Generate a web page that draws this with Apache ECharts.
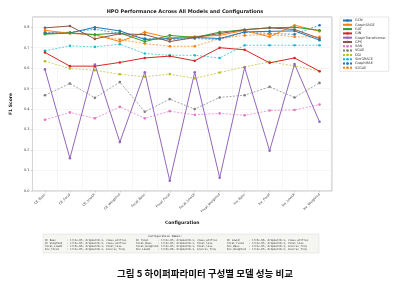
<!DOCTYPE html>
<html>
<head>
<meta charset="utf-8">
<script src="https://cdn.jsdelivr.net/npm/echarts@6/dist/echarts.min.js"></script>
<style>
html,body{margin:0;padding:0;background:#fff;}
#main{width:394px;height:294px;}
</style>
</head>
<body>
<div id="main"></div>
<script>
// 구성(x축) 이름
var configs = ["CE_Base", "CE_Focal", "CE_LowLR", "CE_Weighted", "Focal_Base", "Focal_Focal",
	"Focal_LowLR", "Focal_Weighted", "Inv_Base", "Inv_Focal", "Inv_LowLR", "Inv_Weighted"];
// 모델 이름
var models = ["GCN", "GraphSAGE", "GAT", "GIN", "GraphTransformer", "GPS", "SAN", "VGAE", "DGI", "SimGRACE", "GraphMAE", "S2GAE"];
// 모델별 F1 값
var gcn = [0.770, 0.772, 0.800, 0.782, 0.740, 0.745, 0.750, 0.745, 0.777, 0.780, 0.782, 0.737];
var sage = [0.785, 0.770, 0.764, 0.730, 0.776, 0.748, 0.755, 0.760, 0.785, 0.753, 0.810, 0.780];
var gat = [0.766, 0.772, 0.764, 0.772, 0.730, 0.760, 0.750, 0.776, 0.788, 0.797, 0.800, 0.785];
var gin = [0.677, 0.610, 0.610, 0.628, 0.650, 0.659, 0.636, 0.700, 0.690, 0.626, 0.650, 0.585];
var gtrans = [0.594, 0.160, 0.618, 0.239, 0.580, 0.050, 0.580, 0.065, 0.603, 0.197, 0.620, 0.338];
var gps = [0.797, 0.806, 0.743, 0.768, 0.764, 0.730, 0.750, 0.769, 0.788, 0.797, 0.789, 0.745];
var san = [0.348, 0.384, 0.355, 0.411, 0.355, 0.390, 0.372, 0.379, 0.370, 0.393, 0.396, 0.422];
var vgae = [0.468, 0.525, 0.455, 0.532, 0.387, 0.449, 0.400, 0.457, 0.468, 0.509, 0.457, 0.528];
var dgi = [0.634, 0.598, 0.590, 0.570, 0.558, 0.571, 0.550, 0.579, 0.606, 0.631, 0.611, 0.585];
var simgrace = [0.685, 0.709, 0.704, 0.717, 0.672, 0.663, 0.663, 0.650, 0.712, 0.712, 0.712, 0.712];
var graphmae = [0.775, 0.775, 0.790, 0.770, 0.745, 0.740, 0.745, 0.740, 0.775, 0.770, 0.765, 0.810];
var s2gae = [0.770, 0.775, 0.760, 0.740, 0.720, 0.707, 0.707, 0.745, 0.760, 0.765, 0.753, 0.753];
var allValues = [gcn, sage, gat, gin, gtrans, gps, san, vgae, dgi, simgrace, graphmae, s2gae];
// y축 눈금
var yTicks = [0.0, 0.1, 0.2, 0.3, 0.4, 0.5, 0.6, 0.7, 0.8];
// 구성 설명 표
var configDesc = ["lr=1e-05, dropout=0.1, class_wt=True", "lr=1e-05, dropout=0.1, class_wt=True", "lr=5e-06, dropout=0.1, class_wt=True",
	"lr=1e-05, dropout=0.3, class_wt=True", "lr=1e-05, dropout=0.1, focal_loss", "lr=1e-05, dropout=0.1, focal_loss",
	"lr=5e-06, dropout=0.1, focal_loss", "lr=1e-05, dropout=0.3, focal_loss", "lr=1e-05, dropout=0.1, inverse_freq",
	"lr=1e-05, dropout=0.1, inverse_freq", "lr=5e-06, dropout=0.1, inverse_freq", "lr=1e-05, dropout=0.3, inverse_freq"];

var colors = ["#1f77b4", "#ff7f0e", "#2ca02c", "#d62728", "#9467bd", "#8c564b",
	"#e377c2", "#7f7f7f", "#bcbd22", "#17becf", "#1f77b4", "#ff7f0e"];

var myChart = echarts.init(document.getElementById("main"), null, {renderer: "canvas"});

var series = [];
for (var i = 0; i < models.length; i++) {
	series.push({
		name: models[i],
		type: "line",
		data: allValues[i],
		symbol: "circle",
		symbolSize: 2.6,
		showSymbol: true,
		itemStyle: {color: colors[i]},
		lineStyle: {color: colors[i], width: i < 6 ? 1 : 0.7, type: i < 6 ? "solid" : [2, 1.5]},
		emphasis: {disabled: true},
		z: i < 6 ? 3 : 2
	});
}

// 표 텍스트
var graphics = [];
graphics.push({
	type: "rect", shape: {x: 43, y: 234, width: 276, height: 19},
	style: {fill: "#f5f5f2", stroke: "#d8d8d8", lineWidth: 0.5}
});
graphics.push({
	type: "text", x: 165, y: 236.6,
	style: {text: "Configuration Names:", font: "2.8px 'DejaVu Sans Mono'", fill: "#333", textAlign: "center", textVerticalAlign: "middle"}
});
var colX = [45, 136, 227];
for (var k = 0; k < configs.length; k++) {
	var row = Math.floor(k / 3), col = k % 3;
	var nm = configs[k];
	while (nm.length < 14) nm += " ";
	graphics.push({
		type: "text", x: colX[col], y: 240 + row * 3.1,
		style: {text: nm + ": " + configDesc[k], font: "2.6px 'DejaVu Sans Mono'", fill: "#333", textVerticalAlign: "middle"}
	});
}
graphics.push({
	type: "text", x: 205, y: 273,
	style: {text: "그림 5 하이퍼파라미터 구성별 모델 성능 비교", font: "bold 9.5px 'Noto Sans CJK KR'", fill: "#111", textAlign: "center", textVerticalAlign: "middle"}
});

var option = {
	animation: false,
	backgroundColor: "#fff",
	title: {
		text: "HPO Performance Across All Models and Configurations",
		left: 180, top: 4.5, textAlign: "center",
		textStyle: {fontSize: 5, fontWeight: "bold", color: "#222", fontFamily: "DejaVu Sans"}
	},
	legend: {
		orient: "vertical", left: 340, top: 17,
		data: models,
		itemWidth: 9, itemHeight: 3, itemGap: 1.3,
		padding: [2, 3, 2, 2],
		backgroundColor: "#fff", borderColor: "#ccc", borderWidth: 0.5,
		textStyle: {fontSize: 3.4, color: "#333", fontFamily: "DejaVu Sans", padding: [0, 0, 0, -2]}
	},
	grid: {
		left: 27, right: 62, top: 17, bottom: 103,
		show: true, borderColor: "#aaa", borderWidth: 0.8, backgroundColor: "#fff"
	},
	xAxis: {
		type: "category", data: configs, boundaryGap: true,
		name: "Configuration", nameLocation: "middle", nameGap: 22,
		nameTextStyle: {fontSize: 4.5, fontWeight: "bold", color: "#222", fontFamily: "DejaVu Sans"},
		axisLine: {show: false},
		axisTick: {show: true, alignWithLabel: true, length: 1.5, lineStyle: {color: "#aaa", width: 0.5}},
		axisLabel: {rotate: 45, fontSize: 3.3, color: "#444", margin: 3, interval: 0, fontFamily: "DejaVu Sans"},
		splitLine: {show: true, interval: 0, lineStyle: {color: "#ececec", width: 0.5}}
	},
	yAxis: {
		type: "value", min: 0, max: 0.85, interval: 0.1,
		name: "F1 Score", nameLocation: "middle", nameGap: 14,
		nameTextStyle: {fontSize: 4.5, fontWeight: "bold", color: "#222", fontFamily: "DejaVu Sans"},
		axisLine: {show: false},
		axisTick: {show: true, length: 1.5, lineStyle: {color: "#aaa", width: 0.5}},
		axisLabel: {
			fontSize: 3.5, color: "#444", margin: 3, showMaxLabel: false, fontFamily: "DejaVu Sans",
			formatter: function (v) {
				for (var t = 0; t < yTicks.length; t++) {
					if (Math.abs(yTicks[t] - v) < 1e-6) return yTicks[t].toFixed(1);
				}
				return "";
			}
		},
		splitLine: {show: true, lineStyle: {color: "#ececec", width: 0.5}}
	},
	graphic: graphics,
	series: series
};
myChart.setOption(option);
</script>
</body>
</html>
